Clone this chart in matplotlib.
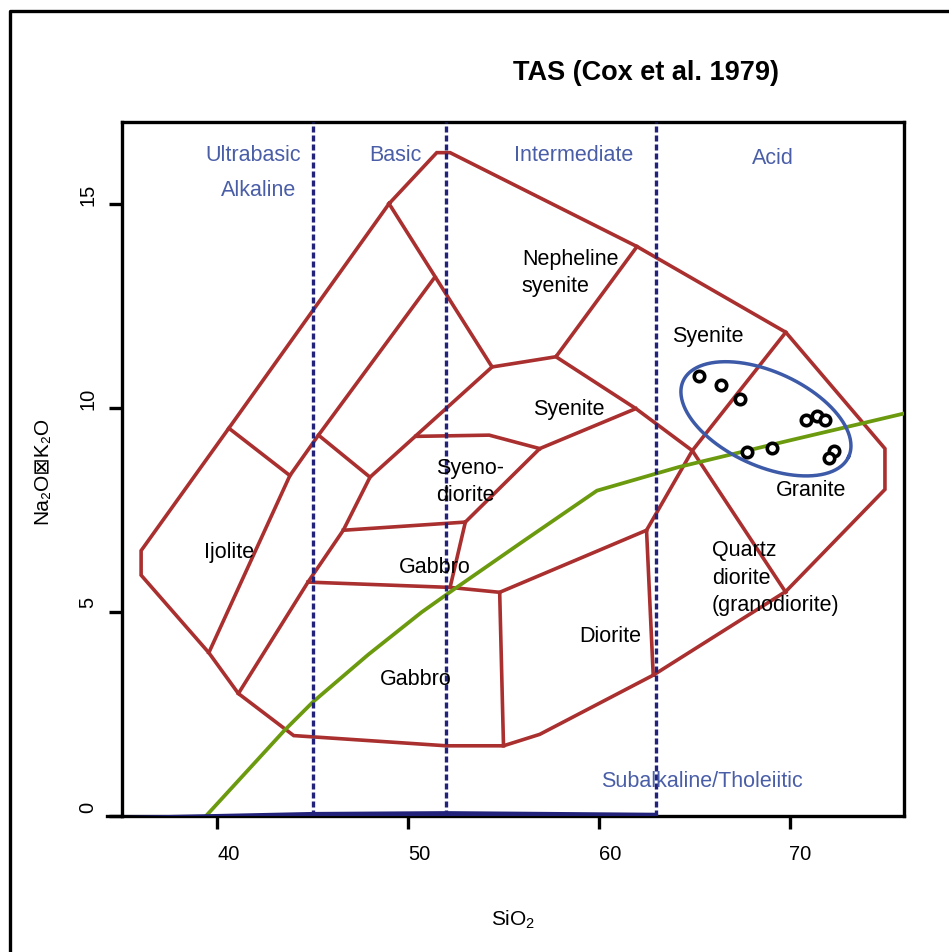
import matplotlib
matplotlib.use("Agg")
import matplotlib.pyplot as plt
from matplotlib.lines import Line2D
from matplotlib.transforms import ScaledTranslation
import numpy as np

plt.rcParams['font.family'] = ['Liberation Sans', 'DejaVu Sans']
plt.rcParams['mathtext.fontset'] = 'custom'
plt.rcParams['mathtext.rm'] = 'Liberation Sans'
plt.rcParams['mathtext.it'] = 'Liberation Sans:italic'
plt.rcParams['mathtext.bf'] = 'Liberation Sans:bold'

# ---------------- data ----------------
# outer field boundary (SiO2, Na2O+K2O)
outer_x = [49.0, 51.5, 52.2, 62.0, 69.8, 75.0, 75.0, 69.8, 62.85, 56.9, 55.0, 52.0, 44.0, 41.1, 39.55, 36.0, 36.0, 40.6, 49.0]
outer_y = [15.0, 16.25, 16.25, 13.95, 11.85, 9.0, 8.0, 5.5, 3.45, 2.0, 1.72, 1.72, 1.97, 3.0, 4.0, 5.9, 6.5, 9.5, 15.0]

# internal field boundaries
neph_x = [49.0, 54.4, 57.75, 62.0]
neph_y = [15.0, 11.0, 11.25, 13.95]
syen_low_x = [57.75, 61.94, 64.9, 69.8]
syen_low_y = [11.25, 9.98, 8.95, 5.48]
granite_x = [69.8, 64.9, 62.5, 62.85]
granite_y = [11.85, 8.95, 7.0, 3.45]
diorite_x = [62.5, 54.8, 55.0]
diorite_y = [7.0, 5.48, 1.72]
gabbro_div_x = [54.8, 52.2, 44.75]
gabbro_div_y = [5.48, 5.6, 5.73]
gabbro_top_x = [53.0, 52.2]
gabbro_top_y = [7.2, 5.6]
syenodior_low_x = [46.6, 53.0, 56.9, 61.94]
syenodior_low_y = [7.0, 7.2, 9.0, 9.98]
syenodior_top_x = [50.4, 54.25, 56.9]
syenodior_top_y = [9.3, 9.33, 9.0]
diag3_x = [54.4, 48.0, 46.6, 44.75, 41.1]
diag3_y = [11.0, 8.3, 7.0, 5.73, 3.0]
diag2_x = [51.4, 45.3, 43.8, 39.55]
diag2_y = [13.2, 9.33, 8.34, 4.0]
ijolite_top_x = [40.6, 43.8]
ijolite_top_y = [9.5, 8.34]
mid_tie_x = [45.3, 48.0]
mid_tie_y = [9.33, 8.3]

# alkaline / subalkaline divide
alk_x = [39.4, 43.5, 45.0, 47.9, 50.7, 52.3, 56.0, 59.9, 64.2, 70.0, 76.0]
alk_y = [0.0, 2.09, 2.79, 3.95, 4.99, 5.52, 6.72, 7.97, 8.55, 9.2, 9.86]

# silica class boundaries
silica_div = [45, 52, 63]

# base wedge
wedge_x = [35.0, 45.0, 52.0, 63.0, 63.0, 35.0]
wedge_y = [0.0, 0.1, 0.12, 0.08, 0.0, 0.0]

# samples
sio2 = [65.25, 66.39, 67.40, 70.84, 71.45, 71.84, 67.75, 69.09, 72.33, 72.06]
alk = [10.77, 10.55, 10.22, 9.69, 9.81, 9.69, 8.91, 9.02, 8.93, 8.76]

# field labels
field_labels = [
    ("Nepheline\nsyenite", 55.96, 13.33, 'left'),
    ("Syenite", 58.44, 9.98, 'center'),
    ("Syenite", 65.72, 11.76, 'center'),
    ("Syeno-\ndiorite", 51.45, 8.2, 'left'),
    ("Ijolite", 40.63, 6.47, 'center'),
    ("Gabbro", 51.42, 6.1, 'center'),
    ("Gabbro", 50.4, 3.36, 'center'),
    ("Diorite", 60.6, 4.41, 'center'),
    ("Quartz\ndiorite\n(granodiorite)", 65.93, 5.85, 'left'),
    ("Granite", 71.12, 7.99, 'center'),
]
class_labels = [
    ("Ultrabasic", 41.85, 16.2),
    ("Alkaline", 42.15, 15.34),
    ("Basic", 49.33, 16.2),
    ("Intermediate", 58.7, 16.2),
    ("Acid", 69.1, 16.12),
    ("Subalkaline/Tholeiitic", 65.4, 0.86),
]

RED = "#AA2F2F"
GREEN = "#6B9A0E"
NAVY = "#22227A"
BLUE_TXT = "#4A5EA8"
ELL = "#3D5AA8"

fig = plt.figure(figsize=(9.49, 9.53), dpi=100)
ax = fig.add_axes([0.1286, 0.1427, 0.824, 0.7282])
ax.set_xlim(35, 76)
ax.set_ylim(0, 17)

lw = 2.6
for xs, ys in [(outer_x, outer_y), (neph_x, neph_y), (syen_low_x, syen_low_y),
               (granite_x, granite_y), (diorite_x, diorite_y), (gabbro_div_x, gabbro_div_y),
               (gabbro_top_x, gabbro_top_y), (syenodior_low_x, syenodior_low_y),
               (syenodior_top_x, syenodior_top_y), (diag3_x, diag3_y), (diag2_x, diag2_y),
               (ijolite_top_x, ijolite_top_y), (mid_tie_x, mid_tie_y)]:
    ax.plot(xs, ys, color=RED, lw=lw, solid_joinstyle='miter', zorder=2)

ax.plot(alk_x, alk_y, color=GREEN, lw=2.7, zorder=3)

ax.fill(wedge_x, wedge_y, color=NAVY, lw=0, zorder=4)
for sx in silica_div:
    ax.plot([sx, sx], [0, 17], color=NAVY, lw=2.4, dashes=(1.8, 0.9), zorder=4)

# ellipse drawn around the sample cluster (pixel-space geometry)
fig.canvas.draw()
px_per_x = ax.bbox.width / (76 - 35)
px_per_y = ax.bbox.height / (17 - 0)
t = np.linspace(0, 2 * np.pi, 300)
a_px, b_px, th = 91, 47, np.deg2rad(24.6)
dx = a_px * np.cos(t) * np.cos(th) - b_px * np.sin(t) * np.sin(th)
dy = a_px * np.cos(t) * np.sin(th) + b_px * np.sin(t) * np.cos(th)
ax.plot(68.76 + dx / px_per_x, 9.73 - dy / px_per_y, color=ELL, lw=2.5, zorder=5)

ax.plot(sio2, alk, 'o', ms=7.5, mfc='white', mec='black', mew=2.6, ls='none', zorder=6)

for txt, x, y, ha in field_labels:
    ax.text(x, y, txt, ha=ha, va='center', fontsize=15.5, color='black',
            linespacing=1.4, multialignment='left', zorder=7)
for txt, x, y in class_labels:
    ax.text(x, y, txt, ha='center', va='center', fontsize=15.5, color=BLUE_TXT, zorder=7)

ax.set_xticks([40, 50, 60, 70])
ax.set_yticks([0, 5, 10, 15])
ax.tick_params(direction='out', length=9.5, width=2.4, labelsize=14.5, color='black')
ax.tick_params(axis='x', pad=11)
ax.tick_params(axis='y', pad=8, labelrotation=90)
for lab in ax.get_yticklabels():
    lab.set_va('center')
for sp in ax.spines.values():
    sp.set_linewidth(2.4)

off_x = ScaledTranslation(11 / 100, 0, fig.dpi_scale_trans)
for lab in ax.get_xticklabels():
    lab.set_transform(lab.get_transform() + off_x)
off_y = ScaledTranslation(0, 10 / 100, fig.dpi_scale_trans)
for lab in ax.get_yticklabels():
    lab.set_transform(lab.get_transform() + off_y)

# small extension of the x axis line to the left
ax.add_line(Line2D([-0.019, 0], [0, 0], transform=ax.transAxes, color='black', lw=2.4, clip_on=False))

fig.text(513.5 / 949, 1 - 920 / 953, "SiO$_2$", ha='center', va='center', fontsize=15)
fig.text(42 / 949, 1 - 470 / 953, "Na₂O⊠K₂O", ha='center', va='center', rotation=90, fontsize=15,
         family=['Liberation Sans', 'DejaVu Sans'])
fig.text(646 / 949, 1 - 73 / 953, "TAS (Cox et al. 1979)", ha='center', va='center',
         fontsize=19.5, fontweight='bold')

# outer frame of the figure
fig.add_artist(Line2D([10 / 949, 10 / 949, 1.01], [-0.01, 1 - 12 / 953, 1 - 12 / 953],
                      transform=fig.transFigure, color='black', lw=2.4))

fig.savefig("out.png", dpi=100)
